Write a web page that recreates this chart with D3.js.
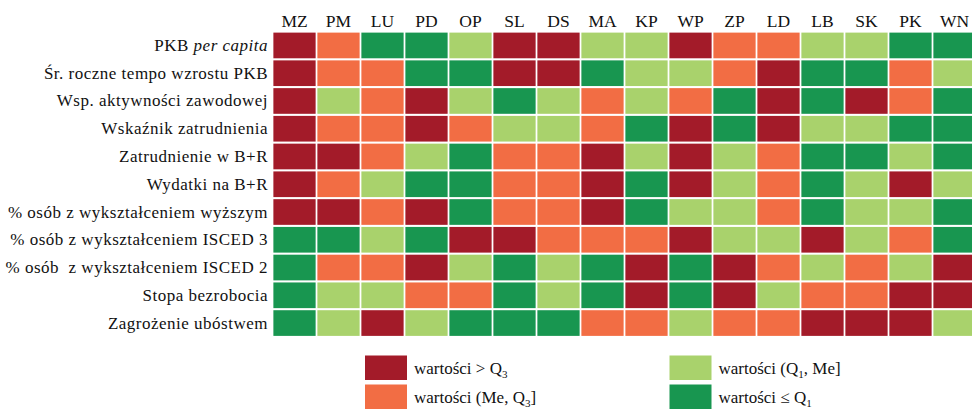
<!DOCTYPE html>
<html>
<head>
<meta charset="utf-8">
<title></title>
<script src="https://cdn.jsdelivr.net/npm/d3@7"></script>
<style>
  body { margin: 0; background: #fff; }
</style>
</head>
<body>
<div id="chart"></div>
<script>
// regions (columns)
var regions = ["MZ", "PM", "LU", "PD", "OP", "SL", "DS", "MA", "KP", "WP", "ZP", "LD", "LB", "SK", "PK", "WN"];

// indicators (rows)
var indicators = [
    "PKB per capita",
    "Śr. roczne tempo wzrostu PKB",
    "Wsp. aktywności zawodowej",
    "Wskaźnik zatrudnienia",
    "Zatrudnienie w B+R",
    "Wydatki na B+R",
    "% osób z wykształceniem wyższym",
    "% osób z wykształceniem ISCED 3",
    "% osób  z wykształceniem ISCED 2",
    "Stopa bezrobocia",
    "Zagrożenie ubóstwem"
];

// quartile class per cell: 4 = > Q3, 3 = (Me, Q3], 2 = (Q1, Me], 1 = <= Q1
var quartileClass = [
    [4,3,1,1,2,4,4,2,2,4,3,3,2,2,1,1],
    [4,3,3,1,1,4,4,1,2,2,3,4,1,1,3,2],
    [4,2,3,4,2,1,2,3,2,3,1,4,1,4,3,1],
    [4,3,3,4,3,2,2,3,1,4,1,4,2,2,1,1],
    [4,4,3,2,1,3,3,4,2,4,2,3,1,1,2,1],
    [4,3,2,1,1,3,3,4,1,4,2,3,1,2,4,2],
    [4,4,3,4,1,3,3,4,1,2,2,3,1,2,2,1],
    [1,1,2,1,4,4,3,3,3,4,2,2,4,2,3,1],
    [1,3,3,4,2,1,2,1,4,1,4,3,2,3,2,4],
    [1,2,2,3,3,1,2,1,4,1,4,2,3,3,4,4],
    [1,2,4,2,1,1,1,3,3,2,3,3,4,4,4,2]
];

// legend entries: class, text, subscript part
var legendClasses = [4, 3, 2, 1];
var legendText = [
    ["wartości > Q", "3", ""],
    ["wartości (Me, Q", "3", "]"],
    ["wartości (Q", "1", ", Me]"],
    ["wartości ≤ Q", "1", ""]
];

var classColors = {4: "#a31b29", 3: "#f26d44", 2: "#a9d26c", 1: "#189650"};

draw();

function draw() {
    var svg = d3.select("#chart").append("svg")
        .attr("width", 972)
        .attr("height", 414)
        .attr("font-family", "'Liberation Serif', 'Times New Roman', Times, serif")
        .style("font-family", "'Liberation Serif', 'Times New Roman', Times, serif");

    var x = d3.scaleBand()
        .domain(regions)
        .range([272.5, 272.5 + 16 * 44])
        .paddingInner(0.04)
        .paddingOuter(0.02);

    var y = d3.scaleBand()
        .domain(indicators)
        .range([31.5, 337])
        .paddingInner(0.075)
        .paddingOuter(0.04);

    var color = d3.scaleOrdinal()
        .domain(legendClasses)
        .range(legendClasses.map(function(c) { return classColors[c]; }));

    // column headers
    svg.selectAll(".colLabel")
        .data(regions)
      .enter().append("text")
        .attr("class", "colLabel")
        .attr("x", function(d) { return x(d) + x.bandwidth() / 2; })
        .attr("y", 27)
        .attr("text-anchor", "middle")
        .attr("fill", "#111")
        .style("font-size", "17.5px")
        .text(function(d) { return d; });

    // row labels
    var rowLabels = svg.selectAll(".rowLabel")
        .data(indicators)
      .enter().append("text")
        .attr("class", "rowLabel")
        .attr("x", 268)
        .attr("y", function(d) { return y(d) + y.bandwidth() / 2 + 5.5; })
        .attr("text-anchor", "end")
        .attr("fill", "#111")
        .style("font-size", "17px")
        .style("letter-spacing", "0.5px")
        .style("white-space", "pre");

    rowLabels.each(function(d) {
        var t = d3.select(this);
        if (d.indexOf("per capita") >= 0) {
            t.append("tspan").text("PKB ");
            t.append("tspan").style("font-style", "italic").text("per capita");
        } else {
            t.text(d);
        }
    });

    // cells
    var rows = svg.selectAll(".row")
        .data(quartileClass)
      .enter().append("g")
        .attr("class", "row")
        .attr("transform", function(d, i) { return "translate(0," + y(indicators[i]) + ")"; });

    rows.selectAll("rect")
        .data(function(d) { return d; })
      .enter().append("rect")
        .attr("x", function(d, i) { return x(regions[i]); })
        .attr("width", x.bandwidth())
        .attr("height", y.bandwidth())
        .attr("fill", function(d) { return color(d); });

    // legend
    var legendX = [365, 365, 669.5, 669.5];
    var legendY = [355.5, 384.5, 355.5, 384.5];

    var legend = svg.selectAll(".legend")
        .data(legendClasses)
      .enter().append("g")
        .attr("class", "legend")
        .attr("transform", function(d, i) { return "translate(" + legendX[i] + "," + legendY[i] + ")"; });

    legend.append("rect")
        .attr("width", 42)
        .attr("height", 24.5)
        .attr("fill", function(d) { return color(d); });

    var lt = legend.append("text")
        .attr("x", 49)
        .attr("y", 18)
        .attr("fill", "#111")
        .style("font-size", "17px");

    lt.each(function(d, i) {
        var t = d3.select(this);
        t.append("tspan").text(legendText[i][0]);
        t.append("tspan").attr("dy", 4).style("font-size", "11px").text(legendText[i][1]);
        if (legendText[i][2]) {
            t.append("tspan").attr("dy", -4).text(legendText[i][2]);
        }
    });
}
</script>
</body>
</html>
